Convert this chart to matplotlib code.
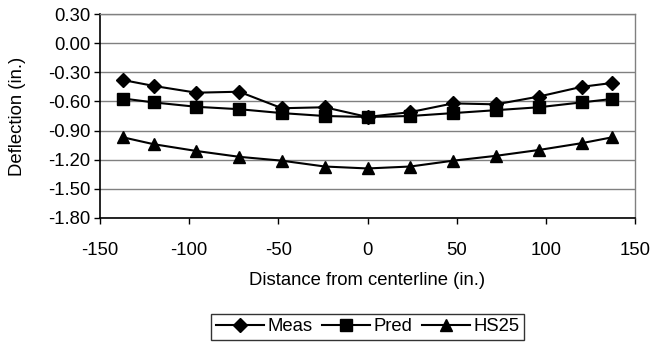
import numpy as np
import matplotlib
matplotlib.use("Agg")
import matplotlib.pyplot as plt

plt.rcParams['font.family'] = ['Liberation Sans', 'DejaVu Sans']
plt.rcParams['axes.unicode_minus'] = False

# distance from centerline (in.)
dist = [-137, -120, -96, -72, -48, -24, 0, 24, 48, 72, 96, 120, 137]
# deflection (in.)
meas = [-0.38, -0.44, -0.51, -0.50, -0.67, -0.66, -0.76, -0.71, -0.62, -0.63, -0.55, -0.45, -0.41]
pred = [-0.57, -0.61, -0.655, -0.68, -0.72, -0.75, -0.76, -0.75, -0.72, -0.69, -0.66, -0.61, -0.575]
hs25 = [-0.97, -1.04, -1.11, -1.17, -1.21, -1.27, -1.29, -1.27, -1.21, -1.16, -1.10, -1.03, -0.97]

yticks = [0.30, 0.00, -0.30, -0.60, -0.90, -1.20, -1.50, -1.80]

fig = plt.figure(figsize=(6.55, 3.42), dpi=100)
ax = fig.add_axes([0.1527, 0.3626, 0.8168, 0.5964])

ax.plot(dist, meas, color='black', lw=1.5, marker='D', ms=7, label='Meas')
ax.plot(dist, pred, color='black', lw=1.5, marker='s', ms=8.5, label='Pred')
ax.plot(dist, hs25, color='black', lw=1.5, marker='^', ms=8.5, label='HS25')

ax.set_xlim(-150, 150)
ax.set_ylim(-1.80, 0.30)
ax.set_xticks([-150, -100, -50, 0, 50, 100, 150])
ax.set_yticks(yticks)
ax.set_yticklabels(['%.2f' % v for v in yticks])
ax.yaxis.grid(True, color='#808080', lw=1)
ax.set_axisbelow(True)

for s in ['top', 'right']:
    ax.spines[s].set_color('#808080')
    ax.spines[s].set_linewidth(1)
for s in ['left', 'bottom']:
    ax.spines[s].set_color('black')
    ax.spines[s].set_linewidth(1.2)
ax.tick_params(direction='out', length=4, width=1, labelsize=13.3, pad=3)
ax.tick_params(axis='x', pad=13)

ax.set_xlabel('Distance from centerline (in.)', fontsize=13.3, labelpad=10)
ax.set_ylabel('Deflection (in.)', fontsize=13.3, labelpad=16)

leg = ax.legend(loc='upper center', bbox_to_anchor=(0.5, -0.47), ncol=3,
                frameon=True, fancybox=False, fontsize=13.3, handlelength=2.6,
                columnspacing=0.5, handletextpad=0.2, borderpad=0.25,
                borderaxespad=0)
leg.get_frame().set_edgecolor('black')
leg.get_frame().set_linewidth(1)

fig.savefig('out.png', dpi=100)
